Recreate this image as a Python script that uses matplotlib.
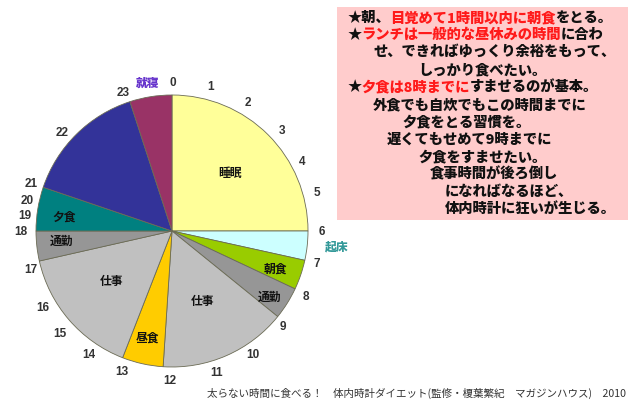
import matplotlib
matplotlib.use('Agg')
import matplotlib.pyplot as plt
from matplotlib.patches import Rectangle

# ---------------- data ----------------
activities = ['睡眠', '起床', '朝食', '通勤', '仕事', '昼食', '仕事', '通勤', '夕食', '自由', '就寝前']
hours = [6.0, 0.83, 0.85, 0.92, 3.65, 1.17, 3.73, 0.85, 1.25, 3.55, 1.2]
colors = ['#FFFF99', '#CCFFFF', '#99CC00', '#969696', '#C0C0C0', '#FFCC00',
          '#C0C0C0', '#969696', '#008080', '#333399', '#993366']
hour_ticks = [str(h) for h in range(24)]
inner_labels = ['睡眠', '朝食', '通勤', '仕事', '昼食', '仕事', '通勤', '夕食']

note_lines = [
    [('★朝、', 'k'), ('目覚めて1時間以内に朝食', 'r'), ('をとる。', 'k')],
    [('★', 'k'), ('ランチは一般的な昼休みの時間', 'r'), ('に合わ', 'k')],
    [('せ、できればゆっくり余裕をもって、', 'k')],
    [('しっかり食べたい。', 'k')],
    [('★', 'k'), ('夕食は8時までに', 'r'), ('すませるのが基本。', 'k')],
    [('外食でも自炊でもこの時間までに', 'k')],
    [('夕食をとる習慣を。', 'k')],
    [('遅くてもせめて9時までに', 'k')],
    [('夕食をすませたい。', 'k')],
    [('食事時間が後ろ倒し', 'k')],
    [('になればなるほど、', 'k')],
    [('体内時計に狂いが生じる。', 'k')],
]
footer = '太らない時間に食べる！　体内時計ダイエット(監修・榎葉繁紀　マガジンハウス)　2010'

# ---------------- layout ----------------
W, H = 637, 403
plt.rcParams['font.family'] = ['Noto Sans CJK JP', 'DejaVu Sans']
fig = plt.figure(figsize=(W / 100, H / 100), dpi=100)
ax = fig.add_axes([0, 0, 1, 1])


def P(x, y):
    return x, H - y


cx, cy = P(172, 231)
ax.pie(hours, colors=colors, startangle=90, counterclock=False,
       center=(cx, cy), radius=136,
       wedgeprops=dict(edgecolor='#6b6b55', linewidth=0.6))
ax.set_xlim(0, W)
ax.set_ylim(0, H)
ax.set_aspect('auto')
ax.axis('off')

# hour labels around the clock
hour_pos = [(173, 83), (211, 87), (248, 103), (282, 131), (302, 162), (317, 193),
            (322, 232), (317, 264), (306, 297), (283, 327), (253, 355), (217, 373),
            (170, 381), (122, 372), (89, 355), (60, 334), (43, 308), (31, 270),
            (21, 232), (25, 216), (27, 201), (31, 184), (62, 133), (123, 93)]
for t, (x, y) in zip(hour_ticks, hour_pos):
    ax.text(*P(x, y), t, ha='center', va='center', fontsize=8.5,
            fontweight='bold', color='#333333', family=['Liberation Sans', 'DejaVu Sans'])

ax.text(*P(148, 83), '就寝', ha='center', va='center', fontsize=8.5,
        fontweight='black', color='#6633CC')
ax.text(*P(337, 247), '起床', ha='center', va='center', fontsize=8.5,
        fontweight='black', color='#339999')

inner_pos = [(230, 173), (275, 269), (270, 297), (203, 301), (147, 338),
             (112, 282), (62, 241), (64, 217)]
for t, (x, y) in zip(inner_labels, inner_pos):
    ax.text(*P(x, y), t, ha='center', va='center', fontsize=8.5,
            fontweight='bold', color='#111111')

# note box
ax.add_patch(Rectangle(P(337, 220), 628 - 337, 220 - 7, facecolor='#FFCCCC',
                       edgecolor='none', zorder=1))

line_x = [347, 347, 373, 418, 347, 373, 402, 387, 418, 430, 445, 445]
line_y = [18, 35, 52, 70, 87, 105, 122, 140, 157, 174, 192, 209]
cmap = {'k': '#111111', 'r': '#FF1A1A'}
for parts, x, y in zip(note_lines, line_x, line_y):
    prev = None
    for txt, c in parts:
        if prev is None:
            prev = ax.text(*P(x, y), txt, ha='left', va='center', fontsize=10.3,
                           fontweight='black', color=cmap[c], zorder=3)
        else:
            prev = ax.annotate(txt, xy=(1, 0.5), xycoords=prev, ha='left',
                               va='center', fontsize=10.3, fontweight='black',
                               color=cmap[c], zorder=3)

ax.text(*P(207, 393), footer, ha='left', va='center', fontsize=7.6,
        color='#333333')

fig.savefig('out.png', dpi=100)
